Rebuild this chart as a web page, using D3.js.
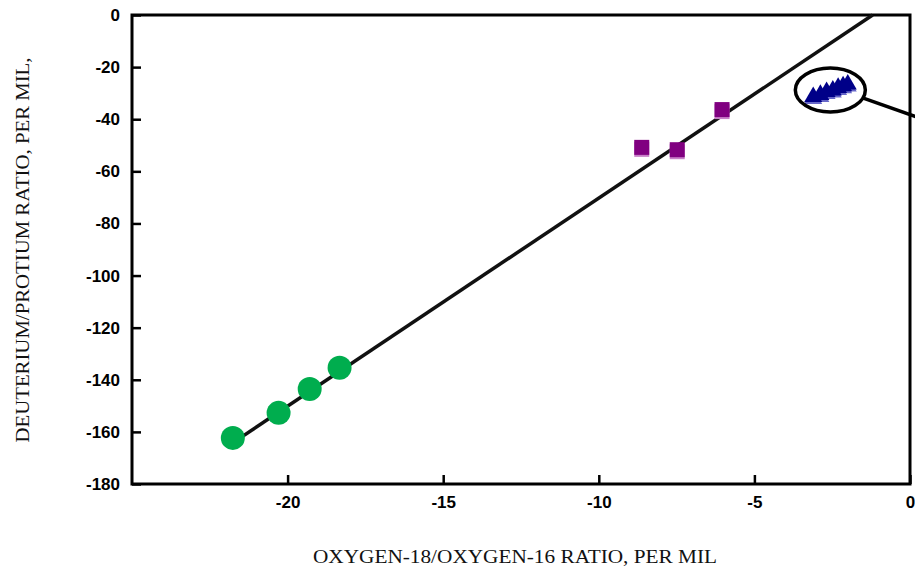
<!DOCTYPE html>
<html>
<head>
<meta charset="utf-8">
<script src="https://cdn.jsdelivr.net/npm/d3@7"></script>
<style>
  body { margin: 0; background: #fff; }
  .tick text { font-family: "Liberation Sans", Arial, sans-serif; font-weight: bold; font-size: 17px; fill: #000; }
  .title { font-family: "Liberation Serif", "Times New Roman", serif; font-size: 19px; fill: #111; }
</style>
</head>
<body>
<div id="chart"></div>
<script>
    // data
    var xTicks = [-20, -15, -10, -5, 0];
    var yTicks = [0, -20, -40, -60, -80, -100, -120, -140, -160, -180];

    var circleX = [-21.76, -20.29, -19.29, -18.33];
    var circleY = [-162.3, -152.7, -143.5, -135.4];

    var squareX = [-8.62, -7.48, -6.04];
    var squareY = [-50.8, -51.7, -36.3];

    var triX = [-3.11, -2.88, -2.68, -2.48, -2.31, -2.15, -2.0];
    var triY = [-31.4, -30.6, -29.5, -28.9, -27.9, -27.3, -26.6];

    var lineX = [-21.8, -1.2];
    var lineY = [-164.5, 0];

    var width = 915, height = 568;
    var mLeft = 132, mRight = 910, mTop = 15, mBottom = 484;

    var svg = d3.select("#chart").append("svg")
        .attr("width", width)
        .attr("height", height);

    var x = d3.scaleLinear().domain([-25, 0]).range([mLeft, mRight]);
    var y = d3.scaleLinear().domain([-180, 0]).range([mBottom, mTop]);

    var fmt = function(d) { return String(d); };

    // x axis, ticks pointing up into the plot
    var xAxis = d3.axisBottom(x).tickValues(xTicks).tickSizeInner(-9).tickSizeOuter(0).tickPadding(10)
        .tickFormat(fmt);
    var gx = svg.append("g").attr("transform", "translate(0," + mBottom + ")").call(xAxis);
    gx.select(".domain").remove();
    gx.selectAll(".tick line").attr("stroke-width", 2.5);
    gx.selectAll(".tick text").attr("dy", "0.85em");

    var yAxis = d3.axisLeft(y).tickValues(yTicks).tickSizeInner(-9).tickSizeOuter(0).tickPadding(12)
        .tickFormat(fmt);
    var gy = svg.append("g").attr("transform", "translate(" + mLeft + ",0)").call(yAxis);
    gy.select(".domain").remove();
    gy.selectAll(".tick line").attr("stroke-width", 2.5);

    // frame
    svg.append("rect")
        .attr("x", mLeft).attr("y", mTop)
        .attr("width", mRight - mLeft).attr("height", mBottom - mTop)
        .attr("fill", "none").attr("stroke", "#000").attr("stroke-width", 3);

    // regression line
    svg.append("line")
        .attr("x1", x(lineX[0])).attr("y1", y(lineY[0]))
        .attr("x2", x(lineX[1])).attr("y2", y(lineY[1]))
        .attr("stroke", "#111").attr("stroke-width", 3.5);

    // circles
    svg.selectAll(".dot").data(circleX).enter().append("circle")
        .attr("class", "dot")
        .attr("cx", function(d) { return x(d); })
        .attr("cy", function(d, i) { return y(circleY[i]); })
        .attr("r", 12)
        .attr("fill", "#00ad4e");

    // squares
    var sq = 15;
    svg.selectAll(".sqs").data(squareX).enter().append("rect")
        .attr("x", function(d) { return x(d) - sq / 2; })
        .attr("y", function(d, i) { return y(squareY[i]) - sq / 2 + 2; })
        .attr("width", sq).attr("height", sq)
        .attr("fill", "#c77fc7");
    svg.selectAll(".sq").data(squareX).enter().append("rect")
        .attr("x", function(d) { return x(d) - sq / 2; })
        .attr("y", function(d, i) { return y(squareY[i]) - sq / 2; })
        .attr("width", sq).attr("height", sq)
        .attr("fill", "#800080");

    // triangles
    var tri = d3.symbol().type(d3.symbolTriangle).size(140);
    svg.selectAll(".trs").data(triX).enter().append("path")
        .attr("d", tri)
        .attr("transform", function(d, i) { return "translate(" + x(d) + "," + (y(triY[i]) + 2) + ")"; })
        .attr("fill", "#6666c8");
    svg.selectAll(".tr").data(triX).enter().append("path")
        .attr("d", tri)
        .attr("transform", function(d, i) { return "translate(" + x(d) + "," + y(triY[i]) + ")"; })
        .attr("fill", "#000088");

    // callout
    var ex = x(-2.56), ey = y(-28.8);
    svg.append("ellipse")
        .attr("cx", ex).attr("cy", ey).attr("rx", 35).attr("ry", 22)
        .attr("fill", "none").attr("stroke", "#000").attr("stroke-width", 3.5);
    svg.append("line")
        .attr("x1", ex + 33).attr("y1", ey + 8)
        .attr("x2", width + 2).attr("y2", ey + 27)
        .attr("stroke", "#000").attr("stroke-width", 3.5);

    // axis titles
    svg.append("text").attr("class", "title")
        .attr("x", 515).attr("y", 563)
        .attr("text-anchor", "middle")
        .attr("textLength", 404).attr("lengthAdjust", "spacingAndGlyphs")
        .text("OXYGEN-18/OXYGEN-16 RATIO, PER MIL");

    svg.append("text").attr("class", "title")
        .attr("transform", "translate(29,250) rotate(-90)")
        .attr("text-anchor", "middle")
        .attr("textLength", 385).attr("lengthAdjust", "spacingAndGlyphs")
        .text("DEUTERIUM/PROTIUM RATIO, PER MIL,");
</script>
</body>
</html>
